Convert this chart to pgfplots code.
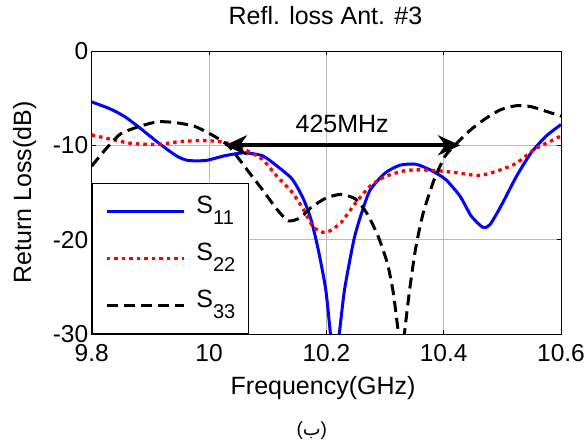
\documentclass[border=0pt]{standalone}
\usepackage{fontspec}
\setmainfont{Liberation Sans}
\newfontfamily\arabicfont[Script=Arabic]{DejaVu Sans}
\TeXXeTstate=1
\usepackage{pgfplots}
\pgfplotsset{compat=1.18}
\usetikzlibrary{arrows.meta}
\newcommand{\fs}{\fontsize{25}{29}\selectfont}
\newcommand{\ft}{\fontsize{24.5}{28}\selectfont}
\newcommand{\Sub}[1]{S\raisebox{-11pt}{\fontsize{20}{22}\selectfont #1}}
\begin{document}
\begin{tikzpicture}
\path[use as bounding box] (-91.7pt,-107pt) rectangle (495.3pt,334pt);
\begin{axis}[
  at={(0pt,0pt)}, anchor=south west,
  scale only axis, width=469.3pt, height=283pt,
  xmin=9.8, xmax=10.6, ymin=-30, ymax=0,
  clip mode=individual,
  xtick={9.8,10,10.2,10.4,10.6}, xticklabels={9.8,10,10.2,10.4,10.6},
  ytick={-30,-20,-10,0}, yticklabels={-30,-20,-10,0},
  tick label style={font=\ft},
  xticklabel style={yshift=-7pt},
  grid=major, major grid style={gray!55, line width=0.6pt},
  tick align=inside, major tick length=4pt, tick style={black, line width=0.7pt},
  axis line style={line width=0.9pt},
  xlabel={Frequency(GHz)}, ylabel={Return Loss(dB)},
  label style={font=\fs},
  xlabel style={at={(axis description cs:0.493,-0.191)}, anchor=center},
  ylabel style={at={(axis description cs:-0.143,0.5)}, anchor=center},
  title={Refl. loss Ant. \#3},
  title style={font=\fs, at={(axis description cs:0.498,1.105)}, anchor=center},
  legend style={at={(0,0)}, anchor=south west, draw=black, line width=0.9pt, fill=white,
    font=\fs, inner xsep=13pt, inner ysep=12pt, row sep=15pt, column sep=11pt,
    nodes={inner sep=0pt, text height=18pt, text depth=14pt}},
  legend cell align=left,
  legend image code/.code={\draw[#1] (0pt,0pt) -- (77pt,0pt);},
]
\addplot[blue, line width=3pt, smooth, tension=0.4] coordinates {
(9.800,-5.4) (9.830,-6.1) (9.855,-6.9) (9.881,-8.1) (9.913,-9.7) (9.944,-11.1)
(9.964,-11.6) (9.995,-11.6) (10.027,-11.1) (10.059,-10.8) (10.091,-11.1) (10.116,-12.2)
(10.142,-13.6) (10.161,-15.7) (10.174,-17.9) (10.186,-21.0) (10.199,-25.3) (10.207,-30.0)
(10.214,-33.5) (10.222,-30.0) (10.231,-25.3) (10.247,-20.0) (10.260,-17.2) (10.275,-14.7)
(10.301,-12.9) (10.326,-12.1) (10.352,-12.0) (10.377,-12.6) (10.403,-13.6) (10.428,-15.4)
(10.447,-17.5) (10.467,-18.7) (10.479,-18.4) (10.498,-16.4) (10.524,-13.3) (10.549,-10.8)
(10.575,-9.0) (10.600,-7.8)};
\addlegendentry{\Sub{11}}
\addplot[red, line width=3.3pt, dash pattern=on 3.5pt off 4pt, smooth, tension=0.4] coordinates {
(9.800,-8.9) (9.836,-9.4) (9.868,-9.8) (9.913,-9.9) (9.951,-9.6) (9.995,-9.5)
(10.027,-9.7) (10.059,-10.4) (10.091,-11.5) (10.116,-13.3) (10.142,-15.0) (10.161,-16.8)
(10.177,-18.6) (10.193,-19.2) (10.205,-19.1) (10.225,-18.2) (10.250,-16.1) (10.275,-14.3)
(10.301,-13.3) (10.333,-12.7) (10.358,-12.6) (10.390,-12.7) (10.422,-12.9) (10.460,-13.2)
(10.492,-12.7) (10.524,-11.9) (10.555,-10.4) (10.581,-9.6) (10.600,-9.0)};
\addlegendentry{\Sub{22}}
\addplot[black, line width=3pt, dash pattern=on 11pt off 6pt, smooth, tension=0.4] coordinates {
(9.800,-12.2) (9.824,-10.4) (9.849,-8.8) (9.881,-8.0) (9.913,-7.5) (9.944,-7.6)
(9.976,-8.0) (10.008,-9.0) (10.034,-10.1) (10.065,-12.6) (10.091,-14.7) (10.116,-16.8)
(10.135,-18.0) (10.155,-17.7) (10.174,-16.6) (10.199,-15.6) (10.225,-15.2) (10.250,-15.7)
(10.269,-17.2) (10.288,-19.6) (10.304,-22.5) (10.314,-25.6) (10.323,-30.0) (10.328,-33.0)
(10.333,-30.0) (10.342,-25.3) (10.352,-21.0) (10.365,-17.2) (10.384,-13.6) (10.403,-11.1)
(10.422,-9.8) (10.447,-8.3) (10.473,-7.1) (10.498,-6.2) (10.524,-5.8) (10.549,-5.9)
(10.575,-6.4) (10.600,-6.9)};
\addlegendentry{\Sub{33}}
\draw[line width=4pt, {Stealth[length=22pt,width=20pt,inset=7pt]}-{Stealth[length=22pt,width=20pt,inset=7pt]}]
  (axis cs:10.027,-10) -- (axis cs:10.428,-10);
\node[font=\fs] at (axis cs:10.227,-7.74) {425MHz};
\node[font=\fontsize{19}{22}\selectfont] at (axis description cs:0.469,-0.340) {({\arabicfont\beginR ب\endR})};
\end{axis}
\end{tikzpicture}
\end{document}
